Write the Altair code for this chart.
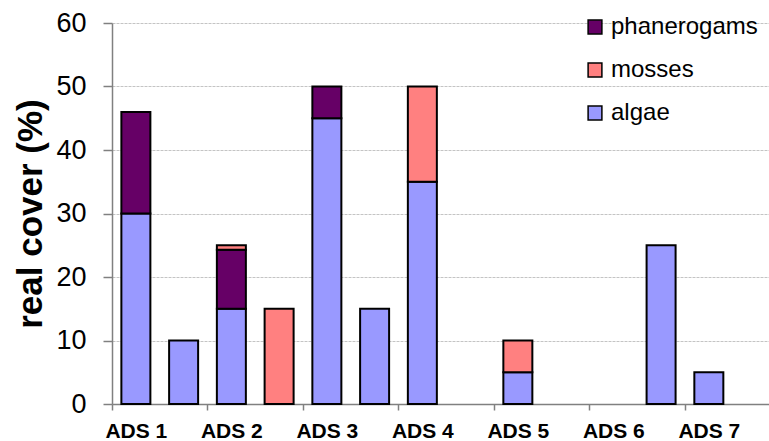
import altair as alt
import pandas as pd

# Site labels (one per pair of category slots) and per-slot cover values (%)
sites = ["ADS 1", "ADS 2", "ADS 3", "ADS 4", "ADS 5", "ADS 6", "ADS 7"]
algae = [30, 10, 15, 0, 45, 15, 35, 0, 5, 0, 0, 25, 5, 0]
phanerogams = [16, 0, 9.3, 0, 5, 0, 0, 0, 0, 0, 0, 0, 0, 0]
mosses = [0, 0, 0.7, 15, 0, 0, 15, 0, 5, 0, 0, 0, 0, 0]

groups = ["phanerogams", "mosses", "algae"]
colors = ["#660066", "#FF8080", "#9999FF"]
stack_rank = {"algae": 0, "phanerogams": 1, "mosses": 2}

rows = []
for name, vals in [("algae", algae), ("phanerogams", phanerogams), ("mosses", mosses)]:
    for slot, v in enumerate(vals):
        if v > 0:
            rows.append({"slot": slot + 0.5, "group": name, "cover": v,
                         "rank": stack_rank[name]})
df = pd.DataFrame(rows)

FONT = "Liberation Sans"
label_array = "[" + ",".join(f"'{s}'" for s in sites) + "]"

x_axis = alt.Axis(
    values=[v for i in range(7) for v in (2 * i, 2 * i + 0.5)],
    labelExpr=f"(datum.value % 2) == 0.5 ? {label_array}[floor(datum.value / 2)] : ''",
    tickOpacity=alt.ExprRef("(datum.value % 2) == 0 ? 1 : 0"),
    tickSize=6, tickColor="#808080", tickWidth=1.5,
    domainColor="#808080", domainWidth=1.5,
    labelFont=FONT, labelFontSize=21, labelFontWeight="bold", labelColor="black",
    labelPadding=10, labelFlush=False, labelOverlap=False,
    grid=False, title=None,
)

y_axis = alt.Axis(
    values=[0, 10, 20, 30, 40, 50, 60],
    tickSize=9, tickColor="#808080", tickWidth=1.5,
    domainColor="#808080", domainWidth=1.5,
    labelFont=FONT, labelFontSize=27, labelColor="black", labelPadding=17,
    grid=True, gridColor="#c4c4c4", gridDash=[3, 1], gridWidth=1,
    title="real cover (%)", titleFont=FONT, titleFontSize=35,
    titleFontWeight="bold", titleColor="black", titlePadding=7,
)

chart = alt.Chart(df).mark_bar(
    width=29, stroke="black", strokeWidth=2
).encode(
    x=alt.X("slot:Q",
            scale=alt.Scale(domain=[0, 13.76], nice=False, zero=False, padding=0),
            axis=x_axis),
    y=alt.Y("sum(cover):Q", stack="zero",
            scale=alt.Scale(domain=[0, 60], nice=False), axis=y_axis),
    color=alt.Color(
        "group:N",
        scale=alt.Scale(domain=groups, range=colors),
        legend=alt.Legend(
            title=None, orient="none", legendX=471, legendY=-8,
            symbolType="square", symbolSize=190, symbolStrokeColor="black",
            symbolStrokeWidth=1.5, labelFont=FONT, labelFontSize=24,
            labelColor="black", rowPadding=19, labelOffset=4, padding=0,
        ),
    ),
    order=alt.Order("rank:Q", sort="ascending"),
).properties(
    width=657, height=381,
    autosize=alt.AutoSizeParams(type="none"),
    padding={"left": 112, "top": 23, "right": 0, "bottom": 37},
).configure_view(stroke=None)

chart.save("out.html", embed_options={"renderer": "svg", "actions": False})
